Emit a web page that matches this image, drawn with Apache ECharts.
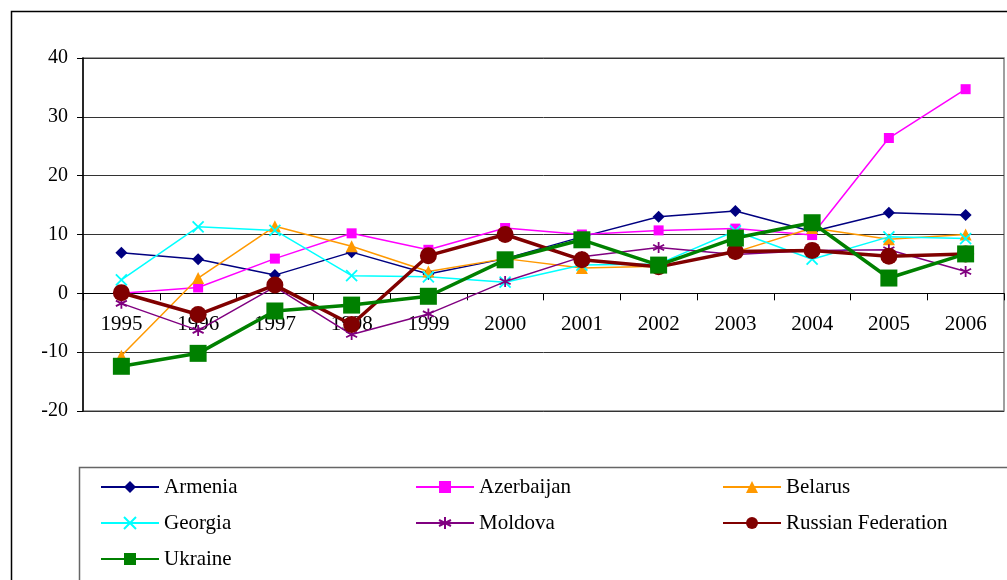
<!DOCTYPE html>
<html>
<head>
<meta charset="utf-8">
<script src="https://cdn.jsdelivr.net/npm/echarts@6/dist/echarts.min.js"></script>
<style>
  html, body { margin: 0; padding: 0; background: #fff; }
  #main { width: 1007px; height: 580px; }
</style>
</head>
<body>
<div id="main"></div>
<script>
var dom = document.getElementById("main");
var myChart = echarts.init(dom);

// data
var years = ['1995', '1996', '1997', '1998', '1999', '2000', '2001', '2002', '2003', '2004', '2005', '2006'];
var armenia    = [6.9, 5.8, 3.1, 7.0, 3.3, 5.9, 9.6, 13.0, 14.0, 10.5, 13.7, 13.3];
var azerbaijan = [0.0, 1.0, 5.9, 10.2, 7.4, 11.1, 10.0, 10.7, 11.0, 9.9, 26.4, 34.7];
var belarus    = [-10.6, 2.6, 11.4, 8.0, 3.7, 5.9, 4.3, 4.6, 7.0, 11.1, 9.2, 10.0];
var georgia    = [2.3, 11.3, 10.7, 3.0, 2.8, 1.9, 4.8, 5.0, 10.6, 5.8, 9.6, 9.3];
var moldova    = [-1.7, -6.3, 1.1, -7.0, -3.5, 2.0, 6.2, 7.8, 6.6, 7.3, 7.4, 3.7];
var russia     = [0.1, -3.6, 1.4, -5.3, 6.4, 10.0, 5.7, 4.5, 7.1, 7.3, 6.3, 6.7];
var ukraine    = [-12.4, -10.2, -3.0, -2.0, -0.5, 5.7, 9.1, 4.8, 9.4, 12.0, 2.6, 6.7];
var yTicks = { min: -20, max: 40, step: 10 };

var font = 'Liberation Serif';
var gridTop = 58, gridBottom = 169, chartH = 580;
// move the category axis up to the zero line (labels go with it)
var plotH = chartH - gridTop - gridBottom;
var zeroShift = plotH * (0 - yTicks.min) / (yTicks.max - yTicks.min);

function mkSeries(name, data, color, symbol, size, width, strokeOnly) {
  var s = {
    name: name,
    type: 'line',
    data: data,
    symbol: symbol,
    symbolSize: size,
    showAllSymbol: true,
    lineStyle: { color: color, width: width },
    itemStyle: { color: color },
    emphasis: { disabled: true }
  };
  if (strokeOnly) {
    s.itemStyle = { color: 'transparent', borderColor: color, borderWidth: 1.8 };
  }
  return s;
}

var xPath = 'path://M0,0L10,10M10,0L0,10';
var starPath = 'path://M5,0L5,10M0,2.5L10,7.5M0,7.5L10,2.5';

var legendBase = {
  orient: 'vertical', top: 476, padding: 0,
  itemWidth: 58, itemHeight: 15, itemGap: 14,
  selectedMode: false,
  textStyle: { color: '#000', fontFamily: font, fontSize: 21, lineHeight: 22 }
};

option = {
  animation: false,
  grid: {
    left: 83, right: 3, top: gridTop, bottom: gridBottom,
    show: true, borderColor: '#808080', borderWidth: 1.5, backgroundColor: '#fff'
  },
  xAxis: {
    type: 'category',
    data: years,
    boundaryGap: true,
    offset: -zeroShift,
    axisLine: { onZero: false, lineStyle: { color: '#000', width: 1 } },
    axisTick: { show: true, length: 7, inside: false, lineStyle: { color: '#000' } },
    axisLabel: { color: '#000', fontFamily: font, fontSize: 21, margin: 21 },
    splitLine: { show: false }
  },
  yAxis: {
    type: 'value',
    min: yTicks.min, max: yTicks.max, interval: yTicks.step,
    axisLine: { show: true, onZero: false, lineStyle: { color: '#000', width: 1.5 } },
    axisTick: { show: true, length: 6, lineStyle: { color: '#000' } },
    axisLabel: { color: '#000', fontFamily: font, fontSize: 20, margin: 15 },
    splitLine: { show: true, lineStyle: { color: '#333', width: 1 } }
  },
  legend: [
    Object.assign({}, legendBase, { left: 100, data: ['Armenia', 'Georgia', 'Ukraine'] }),
    Object.assign({}, legendBase, { left: 415, data: ['Azerbaijan', 'Moldova'] }),
    Object.assign({}, legendBase, { left: 722, data: ['Belarus', 'Russian Federation'] })
  ],
  graphic: [
    {
      type: 'rect', z: -10, silent: true,
      shape: { x: 11.5, y: 11.5, width: 1100, height: 700 },
      style: { fill: '#fff', stroke: '#000', lineWidth: 1.5 }
    },
    {
      type: 'rect', z: -5, silent: true,
      shape: { x: 79.5, y: 467.5, width: 1000, height: 200 },
      style: { fill: '#fff', stroke: '#666', lineWidth: 1.5 }
    }
  ],
  series: [
    mkSeries('Armenia', armenia, '#000080', 'diamond', 12, 1.5),
    mkSeries('Azerbaijan', azerbaijan, '#FF00FF', 'rect', 10, 1.5),
    mkSeries('Belarus', belarus, '#FF9900', 'triangle', 12, 1.5),
    mkSeries('Georgia', georgia, '#00FFFF', xPath, 11, 1.5, true),
    mkSeries('Moldova', moldova, '#800080', starPath, 11, 1.5, true),
    mkSeries('Russian Federation', russia, '#800000', 'circle', 17, 3.5),
    mkSeries('Ukraine', ukraine, '#008000', 'rect', 17, 3.5)
  ]
};

myChart.setOption(option);
</script>
</body>
</html>
